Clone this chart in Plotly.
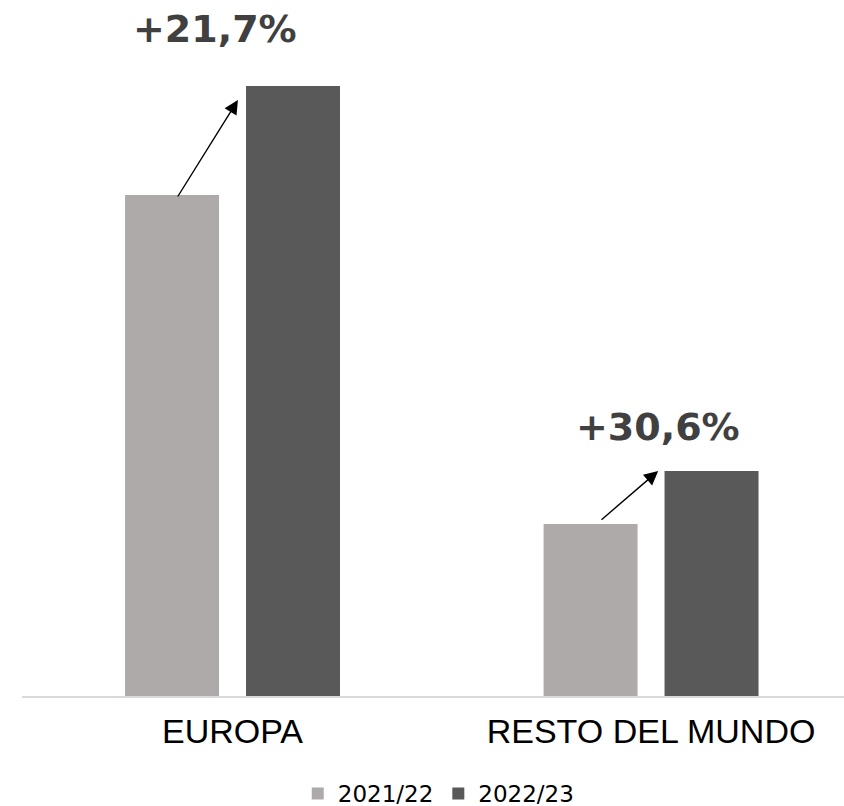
import plotly.graph_objects as go

categories = ["EUROPA", "RESTO DEL MUNDO"]
series_names = ["2021/22", "2022/23"]
values_2021_22 = [501, 172]
values_2022_23 = [610, 225]
growth_labels = ["+21,7%", "+30,6%"]

light = "#AEAAAA"
dark = "#595959"

fig = go.Figure()
fig.add_trace(go.Bar(x=categories, y=values_2021_22, name=series_names[0],
                     marker=dict(color=light, line=dict(width=0))))
fig.add_trace(go.Bar(x=categories, y=values_2022_23, name=series_names[1],
                     marker=dict(color=dark, line=dict(width=0))))

# arrows and growth labels
arrow_tail_dx = [-0.133, -0.122]
arrow_tip_dx = [0.013, 0.017]
arrow_tail_dy = [-3, 3]
arrow_tip_dy = [-14, 0]
label_dx = [-0.042, 0.017]
label_y_extra = [57, 44]
for i, cat in enumerate(categories):
    fig.add_annotation(
        x=i + arrow_tip_dx[i], y=values_2022_23[i] + arrow_tip_dy[i],
        ax=i + arrow_tail_dx[i], ay=values_2021_22[i] + arrow_tail_dy[i],
        xref="x", yref="y", axref="x", ayref="y",
        text="", showarrow=True, arrowhead=2, arrowsize=2, arrowwidth=1.4,
        arrowcolor="#000000")
    fig.add_annotation(
        x=i + label_dx[i], y=values_2022_23[i] + label_y_extra[i],
        xref="x", yref="y", text=growth_labels[i], showarrow=False,
        yanchor="middle", xanchor="center",
        font=dict(family="DejaVu Sans", size=38, color="#404040", weight="bold"))

fig.update_layout(
    width=844, height=806,
    margin=dict(l=22, r=0, t=0, b=110, autoexpand=False),
    paper_bgcolor="white", plot_bgcolor="white",
    barmode="group", bargap=0.422, bargroupgap=0.223,
    showlegend=True,
    legend=dict(orientation="h", x=0.507, xanchor="center", y=-0.14, yanchor="middle",
                font=dict(family="DejaVu Sans", size=23, color="#000000"),
                itemclick=False),
    xaxis=dict(range=[-0.503, 1.461], showline=True, linecolor="#D9D9D9", linewidth=1.5,
               showgrid=False, zeroline=False, ticks="", automargin=False,
               ticklabelstandoff=4,
               tickfont=dict(family="Liberation Sans, Arial", size=34, color="#000000")),
    yaxis=dict(range=[0, 696], visible=False, showgrid=False, zeroline=False, automargin=False),
)

fig.write_html("out.html", config={"displayModeBar": False},
               post_script="document.body.style.margin='0';document.body.style.overflow='hidden';")
